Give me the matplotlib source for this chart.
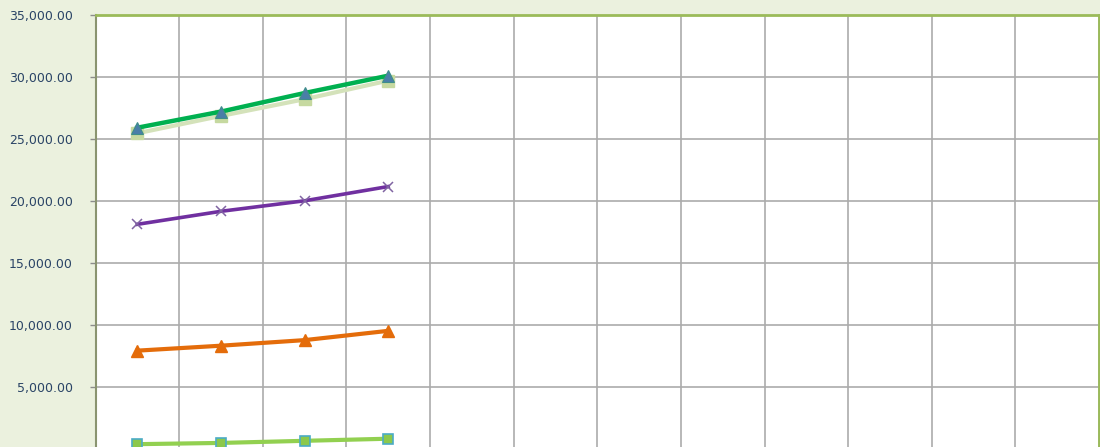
import matplotlib
matplotlib.use("Agg")
import matplotlib.pyplot as plt
from matplotlib.ticker import FuncFormatter

# ---- data ----
categories = ["1", "2", "3", "4", "5", "6", "7", "8", "9", "10", "11", "12"]
series_a = [25900, 27200, 28700, 30100]   # green line, blue triangles
series_b = [25450, 26850, 28200, 29700]   # pale green squares
series_c = [18100, 19150, 20000, 21150]   # purple, x markers
series_d = [7900, 8300, 8750, 9500]       # orange triangles
series_e = [350, 450, 620, 790]           # light green squares
yticks = [0, 5000, 10000, 15000, 20000, 25000, 30000, 35000]

fig = plt.figure(figsize=(11, 4.47), dpi=100)
fig.patch.set_facecolor("#EBF1DE")
ax = fig.add_axes([95.5 / 1100, -1.5 / 447, 1003.5 / 1100, 433.5 / 447])
ax.set_facecolor("white")

n = len(categories)
xs = [i + 0.5 for i in range(len(series_a))]

ax.plot(xs, series_b, color="#D4E2BA", lw=3, marker="s", ms=8,
        mfc="#C6D9A0", mec="#C6D9A0", zorder=3)
ax.plot(xs, series_a, color="#00B050", lw=3.2, marker="^", ms=8,
        mfc="#4A7EA8", mec="#3E8E8A", mew=0.8, zorder=4)
ax.plot(xs, series_c, color="#7030A0", lw=2.6, marker="x", ms=7,
        mec="#8064A2", mew=1.1, zorder=3)
ax.plot(xs, series_d, color="#E46C0A", lw=3, marker="^", ms=9,
        mfc="#E46C0A", mec="#E46C0A", zorder=3)
ax.plot(xs, series_e, color="#92D050", lw=3, marker="s", ms=7,
        mfc="#8CC84B", mec="#4BACC6", mew=1.2, zorder=3)

ax.set_xlim(0, n)
ax.set_ylim(0, 35000)
ax.set_xticks(range(n + 1))
ax.set_xticklabels([])
ax.set_yticks(yticks)
ax.yaxis.set_major_formatter(
    FuncFormatter(lambda v, p: "" if v == 0 else f"{v:,.2f}"))
ax.tick_params(axis="x", length=0)
ax.tick_params(axis="y", length=4.5, width=1, color="#8C8C8C",
               labelsize=9, labelcolor="#2A4466", pad=12)
ax.grid(True, color="#ABABAB", lw=1.2)
ax.set_axisbelow(True)

for s in ("top", "right"):
    ax.spines[s].set_color("#9BBB59")
    ax.spines[s].set_linewidth(2)
ax.spines["left"].set_color("#8A9470")
ax.spines["left"].set_linewidth(1.5)
ax.spines["bottom"].set_visible(False)

fig.savefig("out.png", dpi=100, facecolor=fig.get_facecolor())
